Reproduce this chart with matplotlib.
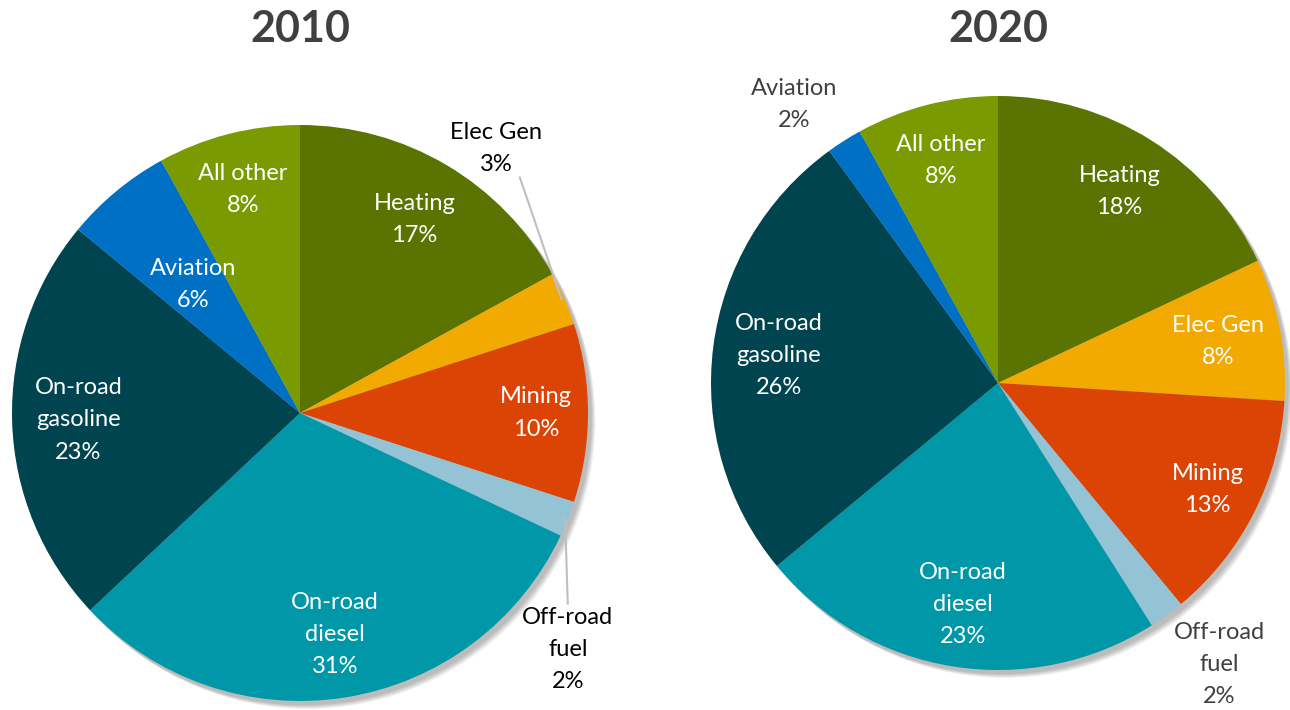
import numpy as np
import matplotlib

matplotlib.use("Agg")
import matplotlib.pyplot as plt
from matplotlib.patches import Circle

plt.rcParams["font.family"] = ["Lato", "DejaVu Sans"]

categories = ["Heating", "Elec Gen", "Mining", "Off-road\nfuel", "On-road\ndiesel",
              "On-road\ngasoline", "Aviation", "All other"]
share_2010 = [17, 3, 10, 2, 31, 23, 6, 8]
share_2020 = [18, 8, 13, 2, 23, 26, 2, 8]
colors = ["#5b7300", "#f2a900", "#dc4405", "#93c3d4", "#0097a9",
          "#00444f", "#0070c4", "#7a9a01"]

# label radial distance (None = outside label)
dist_2010 = [0.78, None, 0.82, None, 0.78, 0.77, 0.58, 0.80]
dist_2020 = [0.79, 0.78, 0.82, None, 0.78, 0.77, None, 0.80]
outside_2010 = {1: ((0.68, 0.92), True), 3: ((0.93, -0.82), True)}
outside_2020 = {3: ((0.77, -0.98), False), 6: ((-0.71, 0.97), False)}

W, H = 1290, 710
fig = plt.figure(figsize=(W / 100, H / 100), dpi=100)


def draw_pie(cx, cy, r, values, dists, outside, title, out_color):
    ax = fig.add_axes([(cx - r) / W, (H - cy - r) / H, 2 * r / W, 2 * r / H])
    # soft drop shadow
    for k in range(8):
        ax.add_patch(Circle((0.012 + k * 0.002, -0.014 - k * 0.002), 1.0,
                            color="black", alpha=0.035, lw=0, zorder=0,
                            clip_on=False))
    wedges, _ = ax.pie(values, colors=colors, startangle=90, counterclock=False,
                       radius=1.0, wedgeprops=dict(linewidth=0, clip_on=False))
    ax.set_xlim(-1, 1)
    ax.set_ylim(-1, 1)
    ax.set_aspect("equal")
    ax.axis("off")
    for i, w in enumerate(wedges):
        ang = np.deg2rad((w.theta1 + w.theta2) / 2)
        label = f"{categories[i]}\n{values[i]}%"
        if dists[i] is not None:
            d = dists[i]
            ax.text(d * np.cos(ang), d * np.sin(ang), label, ha="center", va="center",
                    color="white", fontsize=17, linespacing=1.65, zorder=5)
        else:
            pos, leader = outside[i]
            if leader:
                edge = (0.99 * np.cos(ang), 0.99 * np.sin(ang))
                ax.annotate(label, xy=edge, xytext=pos, ha="center", va="center",
                            color=out_color, fontsize=17, linespacing=1.65,
                            annotation_clip=False, zorder=5,
                            arrowprops=dict(arrowstyle="-", color="#bfbfbf", lw=1.5,
                                            shrinkA=0, shrinkB=0,
                                            relpos=(0.75, 0.0) if pos[1] > 0 else (0.5, 1.0)))
            else:
                ax.text(pos[0], pos[1], label, ha="center", va="center",
                        color=out_color, fontsize=17, linespacing=1.65, clip_on=False)
    fig.text(cx / W, 1 - 29 / H, title, ha="center", va="center",
             fontsize=31, fontweight="bold", color="#404040")


draw_pie(300, 413, 288, share_2010, dist_2010, outside_2010, "2010", "black")
draw_pie(998, 383, 287, share_2020, dist_2020, outside_2020, "2020", "#404040")

fig.savefig("out.png", dpi=100)
